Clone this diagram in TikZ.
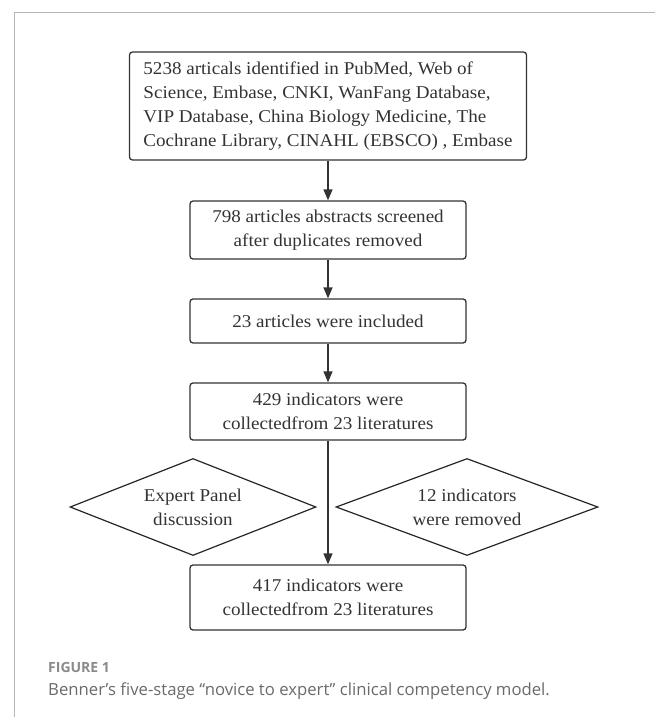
\documentclass[tikz,border=0pt]{standalone}
\usepackage{fontspec}
\setmainfont{Liberation Serif}[FakeStretch=1.06]
\newfontfamily\capfont{Open Sans}
\usetikzlibrary{arrows.meta,shapes.geometric}
\definecolor{ink}{HTML}{333333}
\definecolor{framegray}{HTML}{B5B5B5}
\definecolor{capgray}{HTML}{6A6A6A}
\definecolor{figgray}{HTML}{8A8A8A}
\begin{document}
\begin{tikzpicture}[x=1pt,y=-1pt,
  box/.style={draw=ink, line width=1.3pt, rounded corners=3pt, text=ink, align=center,
    font=\fontsize{18}{24}\selectfont, inner sep=0pt},
  dia/.style={draw=black!85, line width=1.2pt, shape=diamond, aspect=2.6, inner sep=0pt,
    text=ink, align=center, font=\fontsize{18}{24}\selectfont, minimum height=97pt},
  arr/.style={draw=ink, line width=1.3pt, -{Triangle[length=11pt,width=9pt]}}]
\useasboundingbox (0,0) rectangle (655,717);
\draw[framegray, line width=1.5pt] (14.5,717) -- (14.5,12.5) -- (655,12.5);

\node[box, minimum width=397pt, minimum height=108pt, align=left] (b1) at (328,106)
  {5238 articals identified in PubMed, Web of\\Science, Embase, CNKI, WanFang Database,\\VIP Database, China Biology Medicine, The\\Cochrane Library, CINAHL (EBSCO) , Embase};
\node[box, minimum width=276pt, minimum height=58pt] (b2) at (328,230)
  {798 articles abstracts screened\\after duplicates removed};
\node[box, minimum width=276pt, minimum height=44pt] (b3) at (328,321)
  {23 articles were included};
\node[box, minimum width=276pt, minimum height=57pt] (b4) at (328,411.5)
  {429 indicators were\\collectedfrom 23 literatures};
\node[box, minimum width=276pt, minimum height=65pt] (b5) at (328,597.5)
  {417 indicators were\\collectedfrom 23 literatures};

\node[dia, minimum width=246pt] (d1) at (193,507) {Expert Panel\\discussion};
\node[dia, minimum width=262pt] (d2) at (467,507) {12 indicators\\were removed};

\draw[arr] (b1.south) -- (b2.north);
\draw[arr] (b2.south) -- (b3.north);
\draw[arr] (b3.south) -- (b4.north);
\draw[arr] (b4.south) -- (b5.north);

\node[anchor=base west, inner sep=0pt, font=\capfont\bfseries\fontsize{14}{16}\selectfont, text=figgray] (fig) at (48,672) {FIGURE 1};
\node[anchor=base west, inner sep=0pt, font=\capfont\fontsize{16.7}{19}\selectfont, text=capgray] (cap) at (48,695) {Benner’s five-stage “novice to expert” clinical competency model.};
\end{tikzpicture}
\end{document}
